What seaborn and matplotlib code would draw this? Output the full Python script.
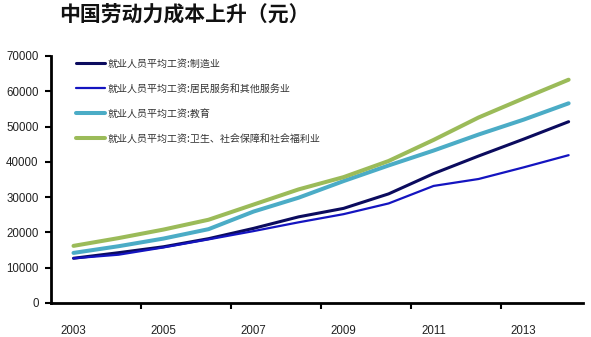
import matplotlib
matplotlib.use("Agg")
import matplotlib.pyplot as plt
import seaborn as sns
import pandas as pd
import numpy as np

years = [2003, 2004, 2005, 2006, 2007, 2008, 2009, 2010, 2011, 2012, 2013, 2014]
manufacturing = [12671, 14251, 15934, 18225, 21144, 24404, 26810, 30916, 36665, 41650, 46431, 51369]
resident_services = [12665, 13680, 15747, 18030, 20370, 22858, 25172, 28206, 33169, 35135, 38429, 41882]
education = [14189, 16085, 18259, 20918, 25908, 29831, 34543, 38968, 43194, 47734, 51950, 56580]
health_welfare = [16185, 18386, 20808, 23590, 27892, 32185, 35662, 40232, 46206, 52564, 57979, 63267]

labels = [
    "就业人员平均工资:制造业",
    "就业人员平均工资:居民服务和其他服务业",
    "就业人员平均工资:教育",
    "就业人员平均工资:卫生、社会保障和社会福利业",
]
series = [manufacturing, resident_services, education, health_welfare]
colors = ["#0B0B5E", "#1414C0", "#4BACC6", "#9BBB59"]
widths = [2.2, 1.6, 2.9, 2.9]
title = "中国劳动力成本上升（元）"
yticks = [0, 10000, 20000, 30000, 40000, 50000, 60000, 70000]
xlabels = [2003, 2005, 2007, 2009, 2011, 2013]

sns.set_style("white")
plt.rcParams['font.family'] = ['Liberation Sans', 'Noto Sans CJK SC', 'DejaVu Sans']

rows = []
for lab, vals in zip(labels, series):
    for i, v in enumerate(vals):
        rows.append({"idx": i, "value": v, "series": lab})
df = pd.DataFrame(rows)

fig = plt.figure(figsize=(5.91, 3.37), dpi=100)
ax = fig.add_axes([0.0863, 0.1009, 0.9002, 0.7331])

for lab, col, lw in zip(labels, colors, widths):
    sns.lineplot(data=df[df["series"] == lab], x="idx", y="value", color=col,
                 linewidth=lw, ax=ax, label=lab)

ax.set_xlim(-0.5, 11.32)
ax.set_ylim(0, 70000)
ax.set_xlabel("")
ax.set_ylabel("")

# y axis
ax.set_yticks(yticks)
ax.set_yticklabels([str(t) for t in yticks], fontsize=8.3, color="#222222")
ax.tick_params(axis="y", which="major", direction="out", length=4, width=1.5,
               color="black", pad=5, left=True)

# x axis: tick marks at category boundaries, labels at categories
ax.set_xticks([1.5, 3.5, 5.5, 7.5, 9.5])
ax.set_xticklabels([])
ax.tick_params(axis="x", which="major", direction="out", length=4, width=1.5,
               color="black", bottom=True)
ax.set_xticks([years.index(y) for y in xlabels], minor=True)
ax.set_xticklabels([str(y) for y in xlabels], minor=True, fontsize=8.3, color="#222222")
ax.tick_params(axis="x", which="minor", length=0, pad=16)

for s in ["top", "right"]:
    ax.spines[s].set_visible(False)
for s in ["left", "bottom"]:
    ax.spines[s].set_color("black")
    ax.spines[s].set_linewidth(2.0)

leg = ax.legend(loc="upper left", bbox_to_anchor=(0.03, 1.025), frameon=False,
                prop={"family": ["Noto Sans CJK SC", "DejaVu Sans"], "size": 7.2},
                handlelength=2.9, handletextpad=0.3, labelspacing=1.5)
for t in leg.get_texts():
    t.set_color("#333333")

fig.text(0.10, 0.955, title, fontsize=15, fontweight="bold",
         family=["Noto Sans CJK SC", "DejaVu Sans"], color="#111111", va="center")

fig.savefig("out.png", dpi=100)
